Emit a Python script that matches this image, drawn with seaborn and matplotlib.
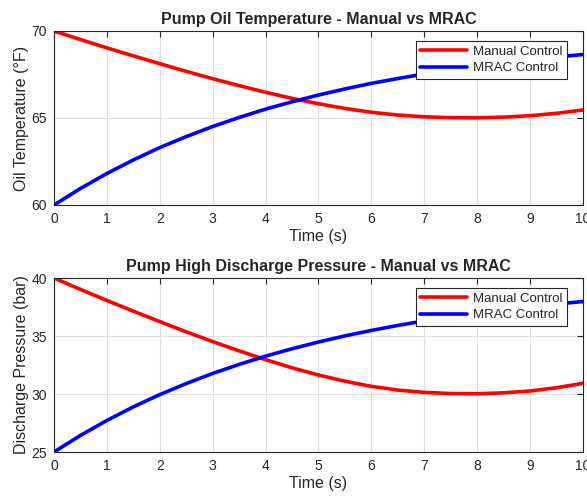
import pandas as pd
import seaborn as sns
import matplotlib.pyplot as plt

# -----------------------------
# Data (0.5 s steps)
# -----------------------------
time_s = [0.0, 0.5, 1.0, 1.5, 2.0, 2.5, 3.0, 3.5, 4.0, 4.5, 5.0,
          5.5, 6.0, 6.5, 7.0, 7.5, 8.0, 8.5, 9.0, 9.5, 10.0]

temp_manual = [70.00, 69.51, 69.03, 68.57, 68.12, 67.68, 67.26, 66.86, 66.48, 66.13, 65.82,
               65.55, 65.33, 65.17, 65.07, 65.02, 65.01, 65.05, 65.13, 65.27, 65.46]
temp_mrac = [60.00, 60.95, 61.81, 62.59, 63.30, 63.93, 64.51, 65.03, 65.51, 65.93, 66.32,
             66.67, 66.99, 67.27, 67.53, 67.77, 67.98, 68.17, 68.35, 68.50, 68.65]

press_manual = [40.00, 39.02, 38.06, 37.14, 36.24, 35.36, 34.52, 33.72, 32.96, 32.26, 31.64,
                31.10, 30.66, 30.34, 30.14, 30.04, 30.02, 30.10, 30.26, 30.54, 30.92]
press_mrac = [25.00, 26.43, 27.72, 28.89, 29.95, 30.90, 31.77, 32.55, 33.26, 33.90, 34.48,
              35.01, 35.48, 35.91, 36.30, 36.65, 36.97, 37.26, 37.52, 37.76, 37.97]

x_ticks = list(range(0, 11))
temp_ticks = [60, 65, 70]
press_ticks = [25, 30, 35, 40]

df_temp = pd.DataFrame({"t": time_s, "Manual Control": temp_manual, "MRAC Control": temp_mrac})
df_press = pd.DataFrame({"t": time_s, "Manual Control": press_manual, "MRAC Control": press_mrac})

# -----------------------------
# Style (MATLAB-ish)
# -----------------------------
sns.set_theme(style="whitegrid")
plt.rcParams["font.family"] = ["Liberation Sans", "DejaVu Sans"]
plt.rcParams["axes.edgecolor"] = "#262626"
plt.rcParams["xtick.color"] = "#262626"
plt.rcParams["ytick.color"] = "#262626"
plt.rcParams["grid.color"] = "#e0e0e0"
plt.rcParams["grid.linewidth"] = 0.8

fig = plt.figure(figsize=(5.87, 5.0), dpi=100)
ax1 = fig.add_axes([0.092, 0.59, 0.901, 0.348])
ax2 = fig.add_axes([0.092, 0.096, 0.901, 0.348])

panels = [
    (ax1, df_temp, temp_ticks, (60, 70), "Oil Temperature (\u00b0F)",
     "Pump Oil Temperature - Manual vs MRAC"),
    (ax2, df_press, press_ticks, (25, 40), "Discharge Pressure (bar)",
     "Pump High Discharge Pressure - Manual vs MRAC"),
]

for ax, df, yt, ylim, ylab, title in panels:
    sns.lineplot(data=df, x="t", y="Manual Control", color="#ff0000", lw=2.6,
                 label="Manual Control", ax=ax)
    sns.lineplot(data=df, x="t", y="MRAC Control", color="#0000ff", lw=2.6,
                 label="MRAC Control", ax=ax)
    ax.set_xlim(0, 10)
    ax.set_ylim(*ylim)
    ax.set_xticks(x_ticks)
    ax.set_yticks(yt)
    ax.set_xlabel("Time (s)", fontsize=11.5, color="#262626", labelpad=2)
    ax.set_ylabel(ylab, fontsize=11.5, color="#262626", labelpad=2)
    ax.set_title(title, fontsize=11.5, fontweight="bold", pad=5)
    ax.tick_params(axis="both", labelsize=10, direction="in", length=4, width=0.8,
                   top=True, right=True, pad=5)
    for s in ax.spines.values():
        s.set_linewidth(0.8)
        s.set_color("#262626")
    ax.grid(True)
    leg = ax.legend(loc="upper right", fontsize=9.5, frameon=True, fancybox=False,
                    framealpha=1, edgecolor="#262626", handlelength=3.5,
                    borderaxespad=0.5, labelspacing=0.3, handletextpad=0.5,
                    borderpad=0.35, bbox_to_anchor=(0.983, 0.98))
    leg.get_frame().set_linewidth(0.8)

fig.savefig("out.png", dpi=100)
